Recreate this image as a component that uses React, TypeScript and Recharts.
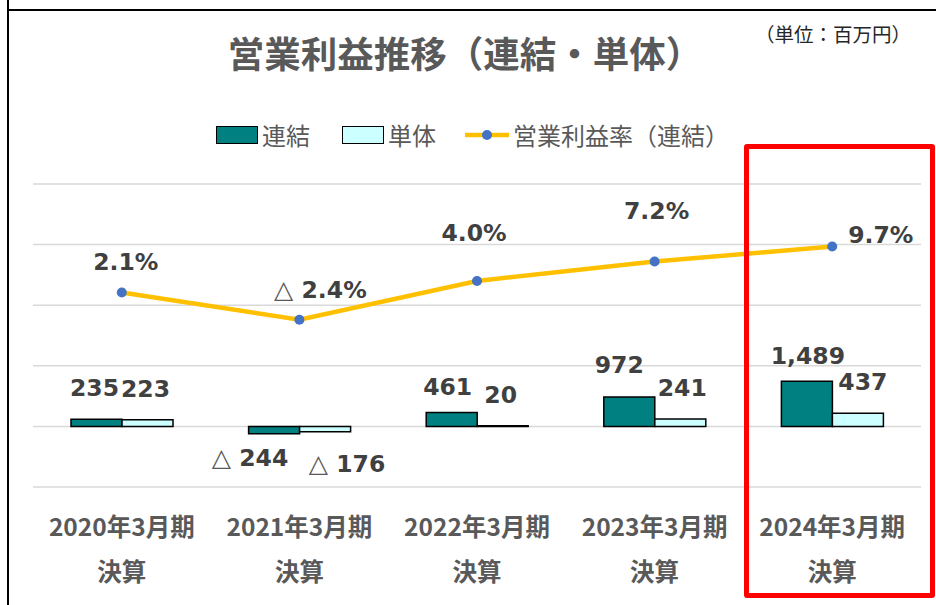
import React from 'react';
import { ComposedChart, Bar, Line, XAxis, YAxis, CartesianGrid, LabelList } from 'recharts';

const years = ['2020年3月期', '2021年3月期', '2022年3月期', '2023年3月期', '2024年3月期'];
const consolidated = [235, -244, 461, 972, 1489];
const standalone = [223, -176, 20, 241, 437];
const marginRate = [2.1, -2.4, 4.0, 7.2, 9.7];
const amountTicks = [-2000, 0, 2000, 4000, 6000, 8000];
const rateTicks = [-30, -20, -10, 0, 10, 20];

const data = years.map((name, i) => ({
  name,
  consolidated: consolidated[i],
  standalone: standalone[i],
  rate: marginRate[i],
}));

const JP = '"Noto Sans CJK JP", "Noto Sans", sans-serif';
const NUM = '"DejaVu Sans", Verdana, sans-serif';
const GREY = '#595959';
const LABEL = '#404040';

// labels were placed by hand in the original, so nudge them a bit
const conNudge = [[-2, 0], [-24, 0], [-4, 6], [-10, -1], [1, 6]];
const stdNudge = [[-2, 0], [22, 8], [-2, 0], [2, 0], [5, 0]];
const rateNudge = [[4, -22], [21, -22], [-3, -40], [2, -43], [16, -3]];

const Tri = () => (
  <tspan fontWeight="normal" fill={GREY} fontSize={25}>△</tspan>
);

const makeBarLabel = (nudge: number[][]) => (props: any) => {
  const vb = props.viewBox || props;
  const { index, value } = props;
  const top = Math.min(vb.y, vb.y + vb.height);
  const bottom = Math.max(vb.y, vb.y + vb.height);
  const [dx, dy] = nudge[index] || [0, 0];
  const cx = vb.x + vb.width / 2 + dx;
  const y = value >= 0 ? top - 23 + dy : bottom + 32 + dy;
  return (
    <text x={cx} y={y} textAnchor="middle" fontFamily={NUM} fontWeight="bold" fontSize={23.5} fill={LABEL}>
      {value < 0 ? <><Tri /> {Math.abs(value)}</> : value.toLocaleString('en-US')}
    </text>
  );
};

const rateLabel = (props: any) => {
  const vb = props.viewBox || props;
  const { index, value } = props;
  const [dx, dy] = rateNudge[index] || [0, 0];
  const last = index === rateNudge.length - 1;
  return (
    <text x={vb.x + dx} y={vb.y + dy} textAnchor={last ? 'start' : 'middle'} fontFamily={NUM} fontWeight="bold" fontSize={23.5} fill={LABEL}>
      {value < 0 ? <><Tri /> {Math.abs(value).toFixed(1)}%</> : `${value.toFixed(1)}%`}
    </text>
  );
};

const YearTick = (props: any) => {
  const { x, y, payload } = props;
  return (
    <g fontFamily={JP} fontWeight="bold" fontSize={24.5} fill={GREY}>
      <text x={x} y={y + 38} textAnchor="middle" dominantBaseline="central">{payload.value}</text>
      <text x={x} y={y + 83} textAnchor="middle" dominantBaseline="central">決算</text>
    </g>
  );
};

const Swatch = ({ color }: { color: string }) => (
  <div style={{ width: 40, height: 16, background: color, border: '1.5px solid #000', marginRight: 4 }} />
);

const LegendRow = () => (
  <div style={{ position: 'absolute', left: 216, top: 119, display: 'flex', alignItems: 'center', fontFamily: JP, fontSize: 24, color: GREY, lineHeight: '32px' }}>
    <Swatch color="#008080" />
    <span style={{ marginRight: 32 }}>連結</span>
    <Swatch color="#CCFFFF" />
    <span style={{ marginRight: 29 }}>単体</span>
    <svg width={44} height={12} style={{ marginRight: 4 }}>
      <line x1={0} y1={6} x2={44} y2={6} stroke="#FFC000" strokeWidth={4.5} />
      <circle cx={22} cy={6} r={5} fill="#4472C4" />
    </svg>
    <span>営業利益率（連結）</span>
  </div>
);

export default function App() {
  return (
    <div style={{ position: 'absolute', left: 0, top: 0, width: 936, height: 605, background: '#fff', overflow: 'hidden' }}>
      <ComposedChart
        width={936}
        height={605}
        data={data}
        margin={{ top: 184, right: 15, bottom: 0, left: 33 }}
        barGap={0}
      >
        <CartesianGrid vertical={false} yAxisId="amt" stroke="#d9d9d9" strokeWidth={1.5} />
        <XAxis dataKey="name" axisLine={false} tickLine={false} tickSize={0} tickMargin={0} height={118} interval={0} tick={<YearTick />} />
        <YAxis yAxisId="amt" hide domain={[-2000, 8000]} ticks={amountTicks} />
        <YAxis yAxisId="pct" hide orientation="right" domain={[-30, 20]} ticks={rateTicks} />
        <Bar yAxisId="amt" dataKey="consolidated" name="連結" fill="#008080" stroke="#000" strokeWidth={1.5} barSize={51} isAnimationActive={false}>
          <LabelList dataKey="consolidated" content={makeBarLabel(conNudge)} />
        </Bar>
        <Bar yAxisId="amt" dataKey="standalone" name="単体" fill="#CCFFFF" stroke="#000" strokeWidth={1.5} barSize={51} isAnimationActive={false}>
          <LabelList dataKey="standalone" content={makeBarLabel(stdNudge)} />
        </Bar>
        <Line
          yAxisId="pct"
          dataKey="rate"
          name="営業利益率（連結）"
          stroke="#FFC000"
          strokeWidth={4.5}
          dot={{ r: 5, fill: '#4472C4', stroke: '#4472C4', strokeWidth: 0 }}
          isAnimationActive={false}
        >
          <LabelList dataKey="rate" content={rateLabel} />
        </Line>
      </ComposedChart>

      {/* frame lines from the source slide */}
      <div style={{ position: 'absolute', left: 7, top: 0, width: 2, height: 605, background: '#000' }} />
      <div style={{ position: 'absolute', left: 7, top: 9, width: 929, height: 2, background: '#000' }} />

      <div style={{ position: 'absolute', left: 0, width: 930, top: 31, textAlign: 'center', fontFamily: JP, fontWeight: 'bold', fontSize: 36.5, color: GREY, lineHeight: '44px' }}>
        営業利益推移（連結・単体）
      </div>
      <div style={{ position: 'absolute', right: 25, top: 21, fontFamily: JP, fontSize: 19.5, color: '#262626', lineHeight: '26px' }}>
        （単位：百万円）
      </div>
      <LegendRow />

      {/* highlight on the latest year */}
      <div style={{ position: 'absolute', left: 744, top: 144, width: 181, height: 444, border: '5px solid #FF0000', borderRadius: 3 }} />
    </div>
  );
}
